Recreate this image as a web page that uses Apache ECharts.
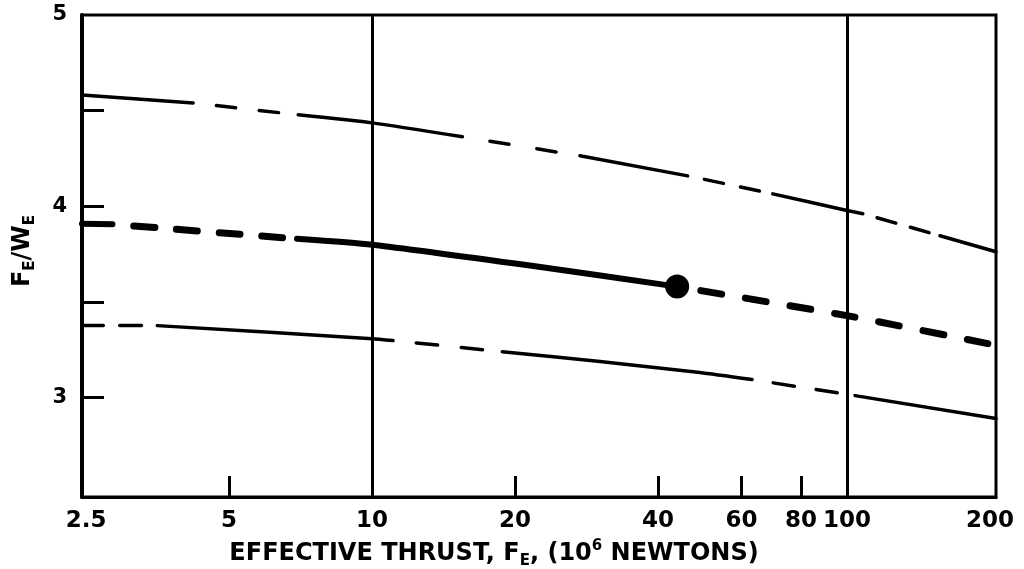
<!DOCTYPE html>
<html><head><meta charset="utf-8">
<script src="https://cdn.jsdelivr.net/npm/echarts@6/dist/echarts.min.js"></script>
<style>html,body{margin:0;padding:0;background:#fff}#c{width:1024px;height:569px}</style>
</head><body><div id="c"></div>
<script>
// ---- data ----
const xTickLabels = ['2.5','5','10','20','40','60','80','100','200'];
const xLabelValues = [2.5,5,10,20,40,60,80,100,200];
const xMinorTicks = [5,20,40,60,80];
const xGridLines = [10,100];
const yLabelValues = [3,4,5];
const yTickValues = [3,3.5,4,4.5];

// upper curve  [thrust (10^6 N), F_E/W_E]
const topCurve = [[2.45,4.582],[4.20,4.540],[6.99,4.478],[10,4.436],[15.5,4.363],[27.4,4.264],[46.2,4.159],[69.8,4.065],[100,3.978],[108,3.961],[157,3.846],[206,3.762]];
const topKinds = ['s','g','s','s','g','s','g','s','s','g','s'];
const topDashCount = [2,2,2,2];

// middle (heavy) curve
const midCurve = [[2.45,3.909],[2.84,3.906],[6.95,3.830],[10,3.799],[21.5,3.690],[43.9,3.580],[100,3.428],[198,3.282]];
const midKinds = ['s','g','s','s','s','e','e'];
const midDashCount = [4,7];
const designPoint = [[43.9,3.580]];

// lower curve
const lowCurve = [[2.45,3.376],[3.53,3.376],[10,3.308],[11.07,3.298],[18.8,3.240],[30.2,3.188],[49.0,3.131],[63.1,3.094],[104,3.010],[206,2.890]];
const lowKinds = ['b','s','s','g','s','s','s','g','s'];
const lowDashCount = [2,2,2];

// ---- build ----
const L10 = v => Math.log10(v);
const FONT = '"DejaVu Sans", "Liberation Sans", sans-serif';

function runsOf(curve, kinds){
  const runs = [];
  for (let i = 0; i < kinds.length; i++){
    const k = kinds[i];
    const last = runs[runs.length-1];
    if (last && last.kind === k) last.pts.push(curve[i+1]);
    else runs.push({kind:k, pts:[curve[i], curve[i+1]]});
  }
  return runs;
}

const curveDefs = [
  {curve: topCurve, kinds: topKinds, counts: topDashCount, w: 3.5, wd: 3.5, dash: 23},
  {curve: midCurve, kinds: midKinds, counts: midDashCount, w: 6, wd: 7, dash: 28},
  {curve: lowCurve, kinds: lowKinds, counts: lowDashCount, w: 3.5, wd: 3.5, dash: 25}
];

const lineSeries = [];
curveDefs.forEach((cd, ci) => {
  let di = 0;
  runsOf(cd.curve, cd.kinds).forEach((r, ri) => {
    const dashed = r.kind !== 's';
    lineSeries.push({
      id: 'c' + ci + '_' + ri,
      type: 'line',
      data: r.pts.map(p => [L10(p[0]), p[1]]),
      showSymbol: false,
      smooth: 0.2,
      silent: true,
      lineStyle: {color: '#000', width: dashed ? cd.wd : cd.w, cap: 'round', join: 'round', type: 'solid'},
      _kind: r.kind, _count: dashed ? cd.counts[di++] : 0, _dash: cd.dash
    });
  });
});

const seriesClean = () => lineSeries.map(s => {
  const o = Object.assign({}, s); delete o._kind; delete o._count; delete o._dash; return o;
});

const chart = echarts.init(document.getElementById('c'), null, {renderer: 'canvas'});
const richStyles = {
  sub: {fontSize: 15, fontWeight: 'bold', fontFamily: FONT, color: '#000', verticalAlign: 'bottom', lineHeight: 15},
  sup: {fontSize: 15, fontWeight: 'bold', fontFamily: FONT, color: '#000', verticalAlign: 'top', lineHeight: 15}
};

const option = {
  animation: false,
  backgroundColor: '#fff',
  grid: {left: 82, right: 28, top: 15, bottom: 72, show: true, borderColor: '#000', borderWidth: 3, containLabel: false, outerBoundsMode: 'none'},
  xAxis: {
    type: 'value', min: L10(2.45), max: L10(206),
    axisLine: {show: true, onZero: false, lineStyle: {color: '#000', width: 3}},
    axisTick: {show: true, inside: true, length: 21, customValues: xMinorTicks.map(L10), lineStyle: {color: '#000', width: 3}},
    axisLabel: {
      show: true, margin: 13, fontSize: 23, fontWeight: 'bold', fontFamily: FONT, color: '#000',
      customValues: xLabelValues.map(L10),
      formatter: v => { let best = 0; xLabelValues.forEach((x,i)=>{ if (Math.abs(L10(x)-v) < Math.abs(L10(xLabelValues[best])-v)) best = i; }); return xTickLabels[best]; }
    },
    splitLine: {show: false},
    name: 'EFFECTIVE THRUST, F{sub|E}, (10{sup|6} NEWTONS)',
    nameLocation: 'middle', nameGap: 42,
    nameTextStyle: {fontSize: 24, fontWeight: 'bold', fontFamily: FONT, color: '#000', lineHeight: 30, padding: [0, 90, 0, 0], rich: richStyles}
  },
  yAxis: {
    type: 'value', min: 2.48, max: 5,
    axisLine: {show: true, lineStyle: {color: '#000', width: 4}},
    axisTick: {show: true, inside: true, length: 22, customValues: yTickValues, lineStyle: {color: '#000', width: 3}},
    axisLabel: {show: true, margin: 15, fontSize: 21, fontWeight: 'bold', fontFamily: FONT, color: '#000', customValues: yLabelValues, padding: [4, 0, 0, 0]},
    splitLine: {show: false},
    name: 'F{sub|E}/W{sub|E}',
    nameLocation: 'middle', nameGap: 44, nameRotate: 90,
    nameTextStyle: {fontSize: 24, fontWeight: 'bold', fontFamily: FONT, color: '#000', lineHeight: 30, padding: [0, 0, 0, 10], rich: richStyles}
  },
  series: seriesClean().concat([{
    id: 'pt', type: 'scatter', data: designPoint.map(p => [L10(p[0]), p[1]]),
    symbol: 'circle', symbolSize: 24, silent: true,
    itemStyle: {color: '#000', opacity: 1},
    markLine: {
      silent: true, symbol: ['none','none'], label: {show: false},
      lineStyle: {color: '#000', width: 3, type: 'solid', opacity: 1},
      data: xGridLines.map(v => ({xAxis: L10(v)}))
    }
  }])
};
chart.setOption(option);

// fit each dashed run's dash pattern to its on-screen length
lineSeries.forEach(s => {
  if (s._kind === 's') return;
  let L = 0;
  for (let i = 1; i < s.data.length; i++){
    const a = chart.convertToPixel({gridIndex: 0}, s.data[i-1]);
    const b = chart.convertToPixel({gridIndex: 0}, s.data[i]);
    L += Math.hypot(b[0]-a[0], b[1]-a[1]);
  }
  const n = s._count, d = s._dash, w = s.lineStyle.width;
  let g, off;
  if (s._kind === 'g') { g = (L - n*d)/(n+1); off = d - w; }
  else if (s._kind === 'e') { g = (L - n*d)/n; off = d - w; }
  else { g = (L - n*d)/n; off = 0; }
  s.lineStyle = Object.assign({}, s.lineStyle, {type: [Math.max(1, d - w), Math.max(1, g + w)], dashOffset: off});
});
chart.setOption({series: seriesClean()});
</script></body></html>
